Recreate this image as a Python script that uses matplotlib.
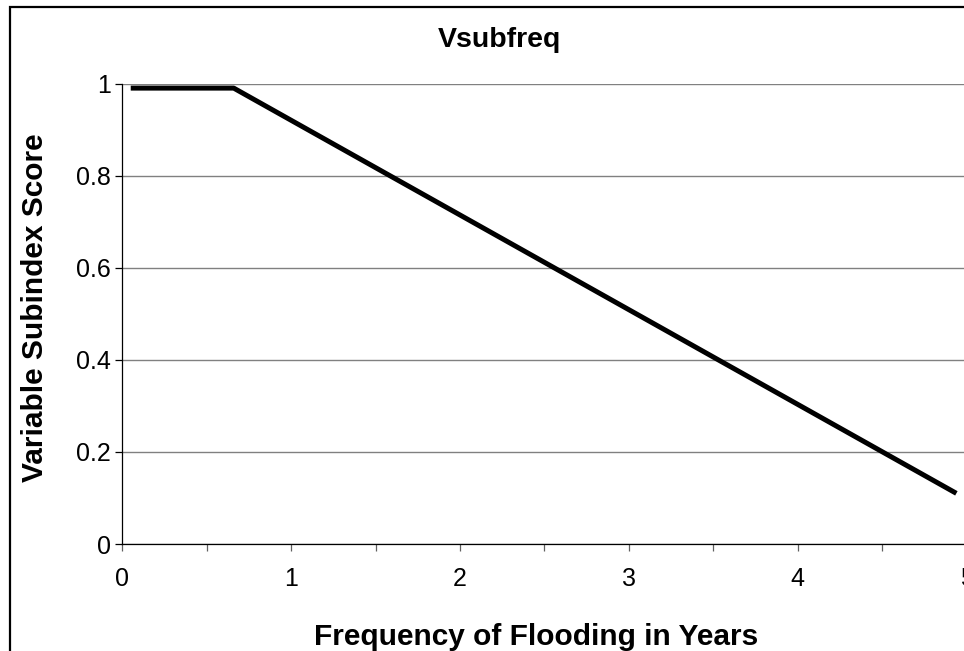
import matplotlib
matplotlib.use("Agg")
import matplotlib.pyplot as plt
from matplotlib.patches import Rectangle
from matplotlib.ticker import MultipleLocator

plt.rcParams["font.family"] = ["Liberation Sans", "DejaVu Sans"]

# data
freq_years = [0.05, 0.66, 4.94]
subindex = [0.99, 0.99, 0.11]
x_ticks = [0, 1, 2, 3, 4, 5]
y_ticks = [0, 0.2, 0.4, 0.6, 0.8, 1]
y_tick_labels = ["0", "0.2", "0.4", "0.6", "0.8", "1"]

W, H = 964, 651
fig = plt.figure(figsize=(W / 100, H / 100), dpi=100)

# outer chart border (cropped on right and bottom in the reference)
fig.patches.append(Rectangle((10 / W, -0.05), 1.05, 1 - 7 / H + 0.05,
                             transform=fig.transFigure, fill=False,
                             edgecolor="black", linewidth=1.6))

left, right = 122.3 / W, 966.5 / W
bottom, top = 1 - 544 / H, 1 - 83.5 / H
ax = fig.add_axes([left, bottom, right - left, top - bottom])
ax.set_xlim(0, 5)
ax.set_ylim(0, 1)

ax.yaxis.grid(True, color="#808080", linewidth=1.0)
ax.set_axisbelow(True)
for s in ("top", "right"):
    ax.spines[s].set_visible(False)
for s in ("left", "bottom"):
    ax.spines[s].set_color("black")
    ax.spines[s].set_linewidth(0.9)

ax.plot(freq_years, subindex, color="black", linewidth=3.6,
        solid_capstyle="butt", clip_on=False)

ax.set_xticks(x_ticks)
ax.xaxis.set_minor_locator(MultipleLocator(0.5))
ax.set_yticks(y_ticks)
ax.set_yticklabels(y_tick_labels)
ax.tick_params(axis="x", which="both", direction="out", length=5,
               width=0.9, color="#606060", labelsize=18, pad=11.5)
ax.tick_params(axis="y", direction="out", length=5, width=0.9,
               color="black", labelsize=18, pad=3)

fig.text(499 / W, 1 - 40 / H, "Vsubfreq", ha="center", va="center",
         fontsize=20.5, fontweight="bold")
fig.text(536 / W, 1 - 645 / H, "Frequency of Flooding in Years",
         ha="center", va="baseline", fontsize=21.5, fontweight="bold")
fig.text(35 / W, 1 - 308 / H, "Variable Subindex Score", ha="center",
         va="center", rotation=90, fontsize=21.5, fontweight="bold")

fig.savefig("out.png", dpi=100)
